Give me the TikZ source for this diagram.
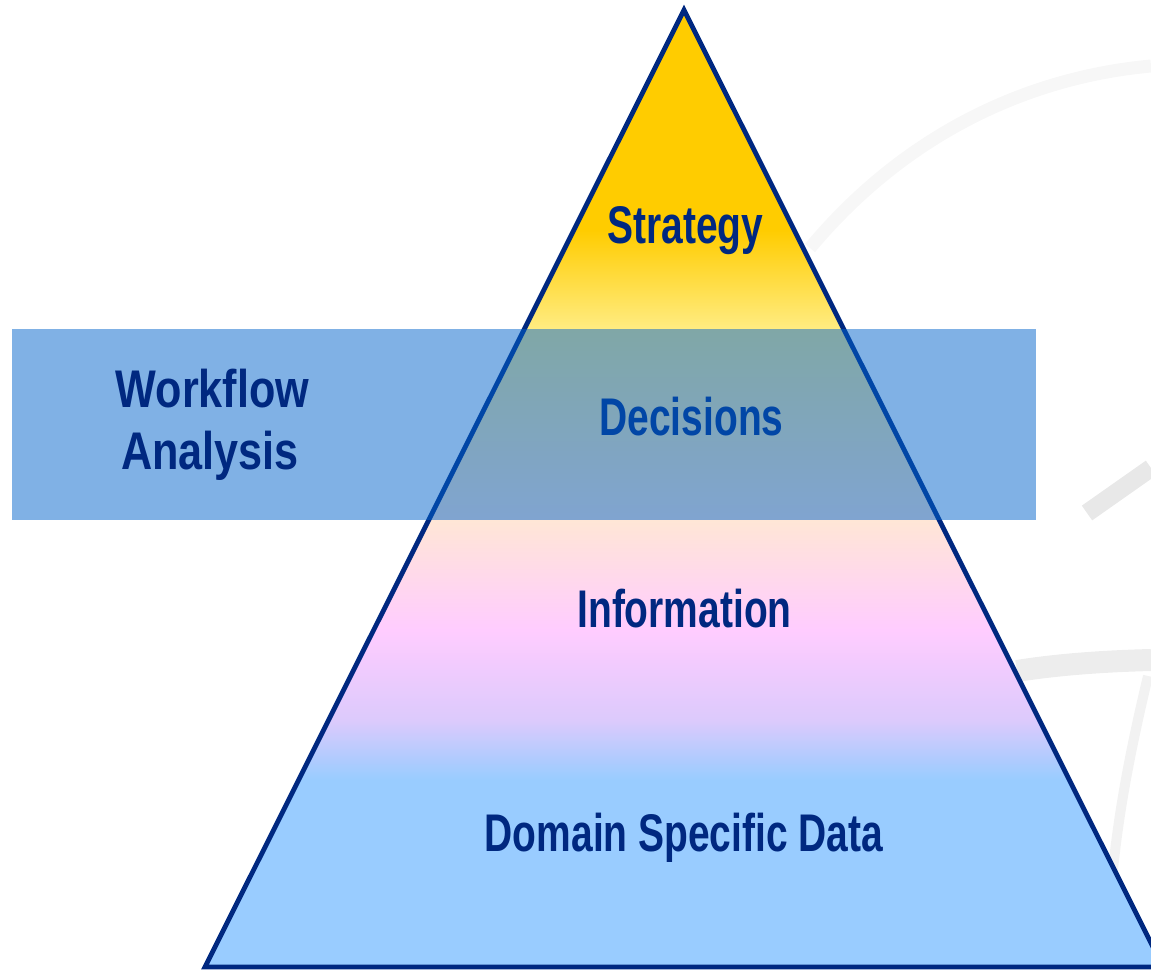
\documentclass[tikz,border=0pt]{standalone}
\usepackage{fontspec}
\usetikzlibrary{positioning}

\newfontfamily\pyrfont[FakeStretch=0.735]{Liberation Sans}
\newfontfamily\sidefont[FakeStretch=0.815]{Liberation Sans}

\definecolor{navy}{RGB}{0,40,128}
\definecolor{pyryellow}{RGB}{255,204,0}
\definecolor{pyrlight}{RGB}{255,236,130}
\definecolor{pyrpeach}{RGB}{255,230,214}
\definecolor{pyrpink}{RGB}{255,204,255}
\definecolor{pyrlilac}{RGB}{220,202,252}
\definecolor{pyrblue}{RGB}{153,204,255}
\definecolor{bandblue}{RGB}{2,100,204}

\pgfdeclareverticalshading{pyramid}{100bp}{%
  color(0bp)=(pyrblue); color(25bp)=(pyrblue); color(34.8bp)=(pyrblue);
  color(37.9bp)=(pyrlilac); color(42.6bp)=(pyrpink); color(48.35bp)=(pyrpeach);
  color(58.33bp)=(pyrlight); color(63.5bp)=(pyryellow); color(100bp)=(pyryellow)}

\begin{document}
\begin{tikzpicture}[
    x=1pt, y=-1pt,
    layer/.style={font=\pyrfont\bfseries\fontsize{53}{62}\selectfont, text=navy, anchor=base, inner sep=0pt},
    side/.style={font=\sidefont\bfseries\fontsize{53}{62}\selectfont, text=navy, anchor=base, inner sep=0pt},
    swoosh/.style={draw=black!#1}
]

\useasboundingbox (0,0) rectangle (1151,970);

% faint background swooshes
\draw[swoosh=3, line width=13pt] (810,248) .. controls (900,140) and (1020,78) .. (1151,66);
\draw[swoosh=9, line width=18pt] (1087,513) -- (1151,468);
\draw[swoosh=7, line width=22pt] (1017,671) .. controls (1060,664) and (1110,661) .. (1151,660);
\draw[swoosh=5, line width=10pt] (1148,676) .. controls (1128,760) and (1115,830) .. (1110,905);

% pyramid
\coordinate (apex) at (684,10);
\coordinate (bl) at (205,967);
\coordinate (br) at (1163,967);

\path[shading=pyramid] (apex) -- (bl) -- (br) -- cycle;

\node (strategy) [layer] at (685.5,243) {Strategy};
\node (decisions) [layer] at (691.5,435) {Decisions};
\node (information) [layer] at (684.5,627) {Information};
\node (data) [layer] at (684,851) {Domain Specific Data};

\draw[navy, line width=4.8pt] (apex) -- (bl) -- (br) -- cycle;

% workflow band
\node (band) [fill=bandblue, fill opacity=0.5, minimum width=1024pt, minimum height=191pt,
    inner sep=0pt, anchor=north west] at (12,329) {};

\node (workflow) [side] at (212.5,407) {Workflow};
\node (analysis) [side] at (210,469) {Analysis};

\end{tikzpicture}
\end{document}
